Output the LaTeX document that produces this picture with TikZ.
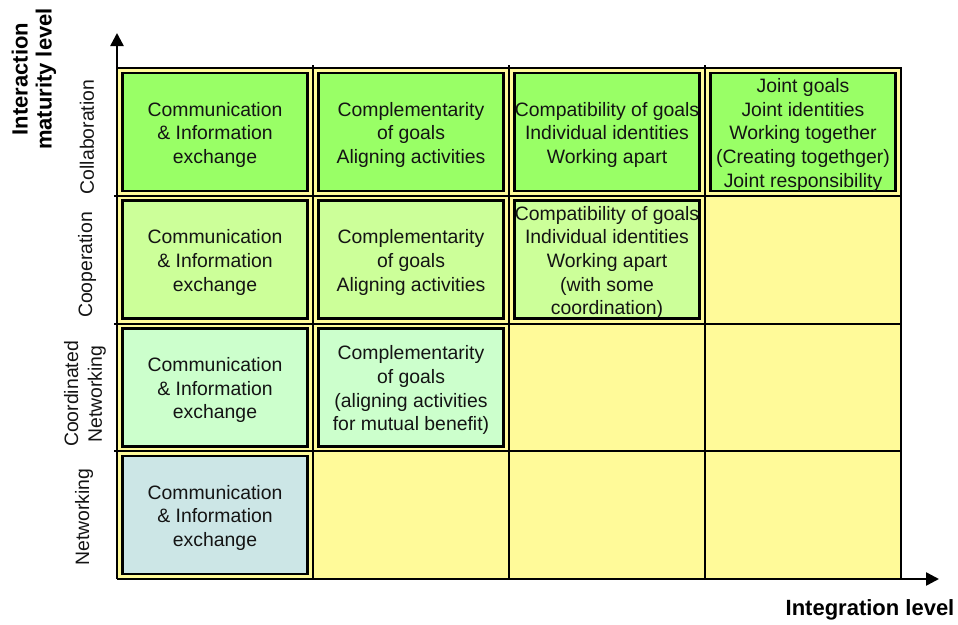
\documentclass[tikz,border=0pt]{standalone}
\usepackage{fontspec}
\setmainfont{Liberation Sans}
\usetikzlibrary{arrows.meta}
\definecolor{gridyellow}{RGB}{255,250,153}
\definecolor{collabgreen}{RGB}{153,255,102}
\definecolor{coopgreen}{RGB}{204,255,153}
\definecolor{coordgreen}{RGB}{204,255,204}
\definecolor{netblue}{RGB}{204,230,230}
\definecolor{txt}{RGB}{20,20,20}
\tikzset{
  cellbox/.style={draw=black, line width=2.5pt, minimum width=185pt, minimum height=118pt,
    inner sep=0pt},
  celltext/.style={inner sep=0pt, align=center, text=txt, font=\fontsize{19.4}{23.7}\selectfont},
  gridline/.style={draw=black, line width=2pt},
  axisline/.style={draw=black, line width=2.5pt, -{Triangle[length=13pt,width=13pt]}},
  rowlabel/.style={rotate=90, align=center, text=txt, inner sep=0pt, font=\fontsize{19.4}{23.7}\selectfont},
  axislabel/.style={align=center, text=black, inner sep=0pt, font=\fontsize{22}{24}\selectfont\bfseries}
}
\begin{document}
\begin{tikzpicture}[x=1pt,y=-1pt]
\useasboundingbox (0,0) rectangle (958,624);
% grid background
\fill[gridyellow] (117,68) rectangle (901,579);
% grid lines
\foreach \xx in {313,509,705} { \draw[gridline] (\xx,65) -- (\xx,579); }
\foreach \yy in {195.75,323.5,451.25} { \draw[gridline] (114,\yy) -- (901,\yy); }
\draw[black, line width=2.5pt] (117,68) -- (901,68) -- (901,579);
% axes
\coordinate (O) at (117,579);
\coordinate (ytip) at (117,33);
\coordinate (xtip) at (939,579);
\draw[axisline] (O) -- (ytip);
\draw[axisline] (O) -- (xtip);
% row 0: Collaboration
\node[cellbox, fill=collabgreen] (c00) at (215,131.9) {};
\node[cellbox, fill=collabgreen] (c01) at (411,131.9) {};
\node[cellbox, fill=collabgreen] (c02) at (607,131.9) {};
\node[cellbox, fill=collabgreen] (c03) at (803,131.9) {};
% row 1: Cooperation
\node[cellbox, fill=coopgreen] (c10) at (215,259.6) {};
\node[cellbox, fill=coopgreen] (c11) at (411,259.6) {};
\node[cellbox, fill=coopgreen] (c12) at (607,259.6) {};
% row 2: Coordinated Networking
\node[cellbox, fill=coordgreen] (c20) at (215,387.4) {};
\node[cellbox, fill=coordgreen] (c21) at (411,387.4) {};
% row 3: Networking
\node[cellbox, fill=netblue] (c30) at (215,515.1) {};
% cell texts
\node[celltext] (t00) at ([yshift=-2.8pt]c00.center) {Communication\\\& Information\\exchange};
\node[celltext] (t01) at ([yshift=-2.8pt]c01.center) {Complementarity\\of goals\\Aligning activities};
\node[celltext] (t02) at ([yshift=-2.8pt]c02.center) {Compatibility of goals\\Individual identities\\Working apart};
\node[celltext] (t03) at ([yshift=-2.8pt]c03.center) {Joint goals\\Joint identities\\Working together\\(Creating togethger)\\Joint responsibility};
\node[celltext] (t10) at ([yshift=-2.8pt]c10.center) {Communication\\\& Information\\exchange};
\node[celltext] (t11) at ([yshift=-2.8pt]c11.center) {Complementarity\\of goals\\Aligning activities};
\node[celltext] (t12) at ([yshift=-2.8pt]c12.center) {Compatibility of goals\\Individual identities\\Working apart\\(with some\\coordination)};
\node[celltext] (t20) at ([yshift=-2.8pt]c20.center) {Communication\\\& Information\\exchange};
\node[celltext] (t21) at ([yshift=-2.8pt]c21.center) {Complementarity\\of goals\\(aligning activities\\for mutual benefit)};
\node[celltext] (t30) at ([yshift=-2.8pt]c30.center) {Communication\\\& Information\\exchange};
% row labels
\node[rowlabel] (l0) at (87,137) {Collaboration};
\node[rowlabel] (l1) at (87,265) {Cooperation};
\node[rowlabel] (l2) at (85,394) {Coordinated\\Networking};
\node[rowlabel] (l3) at (84,517) {Networking};
% axis labels
\node[axislabel, rotate=90] (ylab) at (34,79) {Interaction\\maturity level};
\node[axislabel] (xlab) at (870,610) {Integration level};
\end{tikzpicture}
\end{document}
